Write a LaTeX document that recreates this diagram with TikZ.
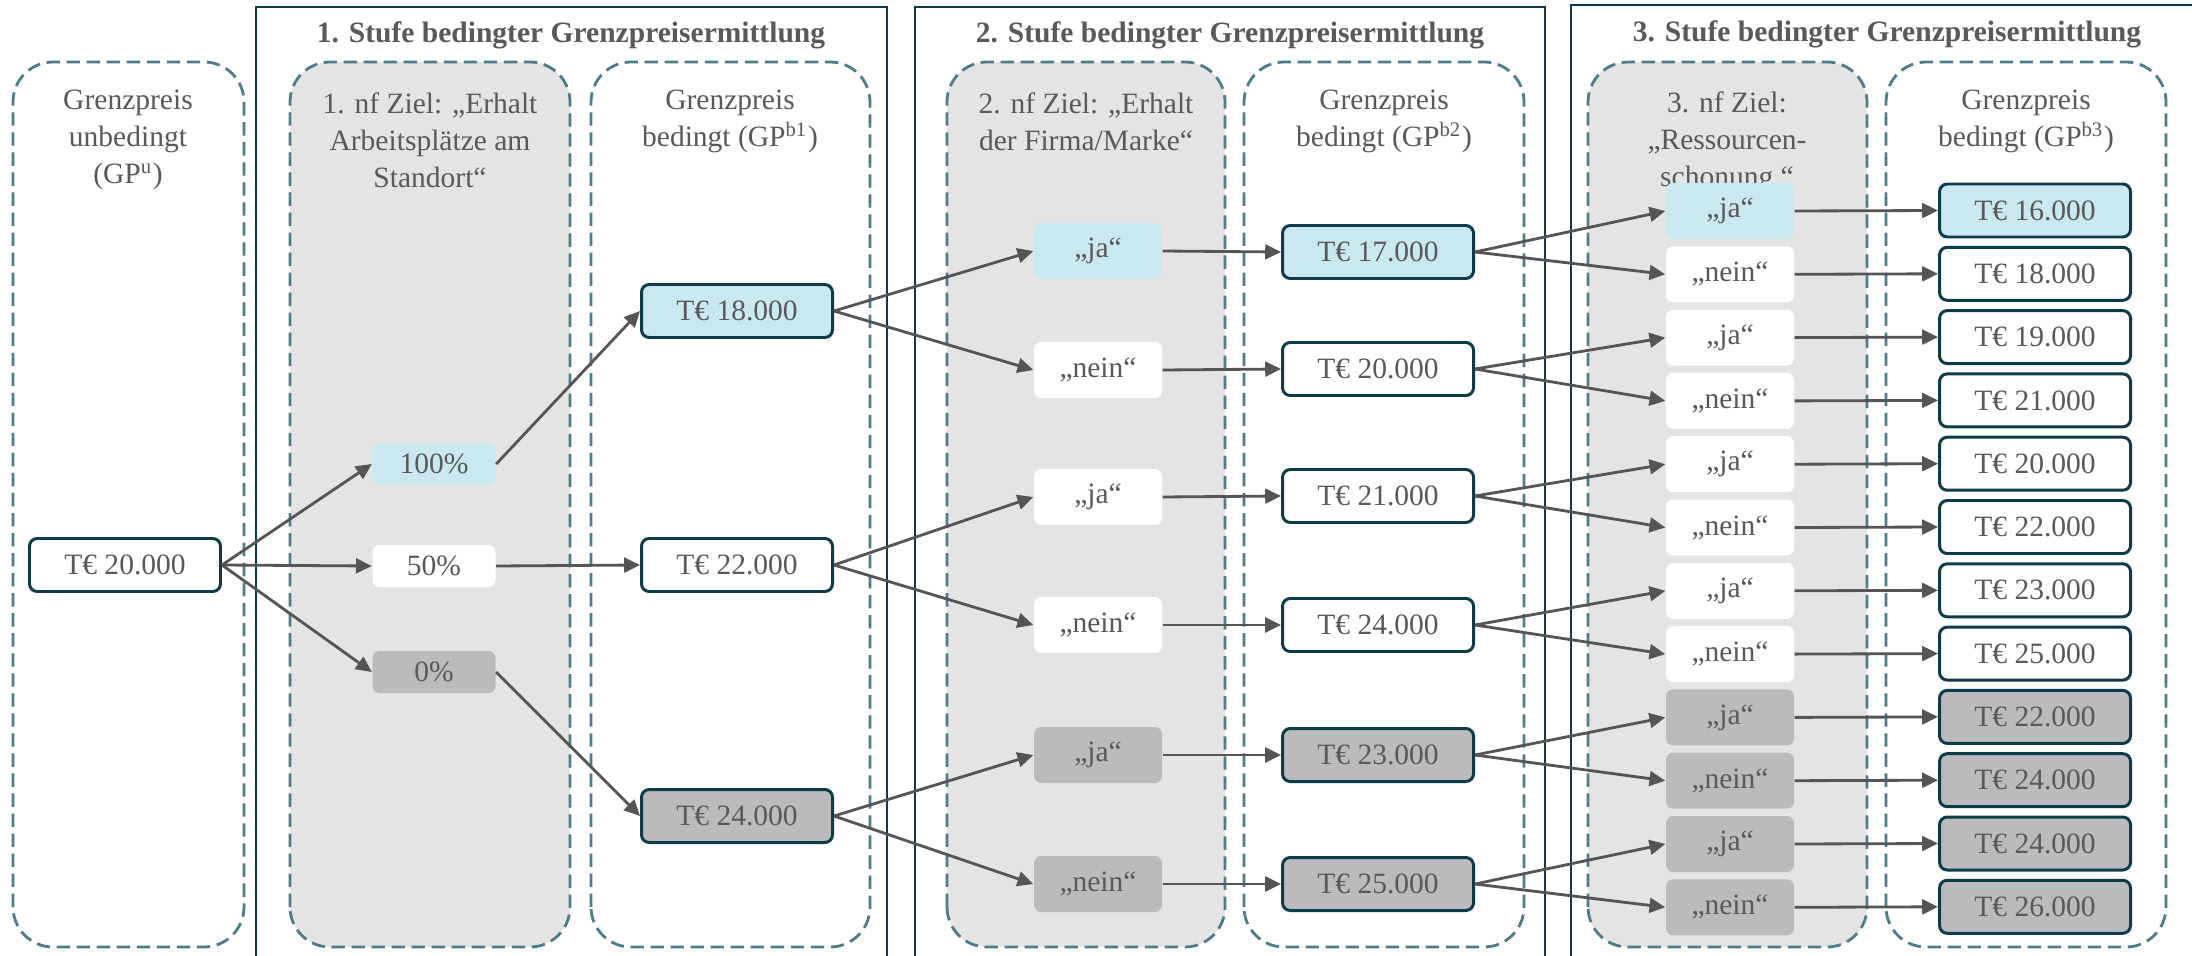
\documentclass[tikz,border=0pt]{standalone}
\usepackage{fontspec}
\setmainfont{Liberation Serif}
\usepackage{tikz}
\usepackage{xcolor}
\usetikzlibrary{arrows.meta}
\definecolor{textgray}{RGB}{89,89,89}
\definecolor{arrowgray}{RGB}{85,85,85}
\definecolor{frameteal}{RGB}{13,59,74}
\definecolor{dashteal}{RGB}{77,124,138}
\definecolor{colgray}{RGB}{228,228,228}
\definecolor{bluefill}{RGB}{201,232,239}
\definecolor{grayfill}{RGB}{187,187,189}

\begin{document}
\begin{tikzpicture}[
    >={Triangle[length=4.5pt, width=4.2pt]},
    colbox/.style={draw=dashteal, line width=0.8pt, dash pattern=on 3.8pt off 1.9pt, rounded corners=0.4cm},
    stagebox/.style={draw=frameteal, line width=0.7pt},
    head/.style={text=textgray, align=center, font=\fontsize{8.4}{10.5}\selectfont},
    title/.style={text=textgray, font=\fontsize{8.4}{10.5}\selectfont\bfseries},
    pricebox/.style={draw=frameteal, line width=0.85pt, rounded corners=2.2pt, minimum width=1.91cm, minimum height=0.53cm, inner sep=0pt, text=textgray, font=\fontsize{8.4}{10.5}\selectfont},
    pctbox/.style={rounded corners=2pt, minimum width=1.23cm, minimum height=0.42cm, inner sep=0pt, text=textgray, font=\fontsize{8.4}{10.5}\selectfont},
    optbox/.style={rounded corners=2pt, minimum width=1.28cm, minimum height=0.56cm, inner sep=0pt, text=textgray, font=\fontsize{8.4}{10.5}\selectfont},
    flow/.style={->, draw=arrowgray, line width=0.8pt}
]

% Canvas
\useasboundingbox (0,0) rectangle (21.92,9.55);
\clip (0,0) rectangle (21.92,9.55);
\fill[white] (0,0) rectangle (21.92,9.55);

% Stage frames (open at the bottom and right edge)
\draw[stagebox] (2.56,-0.5) rectangle (8.87,9.48);
\draw[stagebox] (9.15,-0.5) rectangle (15.45,9.48);
\draw[stagebox] (15.71,-0.5) rectangle (22.5,9.50);
\node[title] (TITLE1) at (5.71, 9.20) {1. Stufe bedingter Grenzpreisermittlung};
\node[title] (TITLE2) at (12.30, 9.20) {2. Stufe bedingter Grenzpreisermittlung};
\node[title] (TITLE3) at (18.87, 9.21) {3. Stufe bedingter Grenzpreisermittlung};

% Columns
\draw[colbox] (0.13,0.08) rectangle (2.44,8.93);
\draw[colbox, fill=colgray] (2.90,0.08) rectangle (5.70,8.93);
\draw[colbox] (5.91,0.08) rectangle (8.70,8.93);
\draw[colbox, fill=colgray] (9.47,0.08) rectangle (12.25,8.93);
\draw[colbox] (12.44,0.08) rectangle (15.24,8.93);
\draw[colbox, fill=colgray] (15.88,0.08) rectangle (18.67,8.93);
\draw[colbox] (18.86,0.08) rectangle (21.66,8.93);

% Column headers
\node[head] (HEAD_U) at (1.28, 8.15) {Grenzpreis\\unbedingt\\(GP\textsuperscript{u})};
\node[head] (HEAD_Z1) at (4.30, 8.15) {1. nf Ziel: „Erhalt\\Arbeitsplätze am\\Standort“};
\node[head] (HEAD_B1) at (7.30, 8.34) {Grenzpreis\\bedingt (GP\textsuperscript{b1})};
\node[head] (HEAD_Z2) at (10.86, 8.33) {2. nf Ziel: „Erhalt\\der Firma/Marke“};
\node[head] (HEAD_B2) at (13.84, 8.34) {Grenzpreis\\bedingt (GP\textsuperscript{b2})};
\node[head] (HEAD_Z3) at (17.27, 8.13) {3. nf Ziel:\\„Ressourcen-\\schonung “};
\node[head] (HEAD_B3) at (20.26, 8.34) {Grenzpreis\\bedingt (GP\textsuperscript{b3})};

% Unconditional price
\node[pricebox, fill=white] (GPU) at (1.25, 3.90) {T€ 20.000};

% Stage 1
\node[pctbox, fill=bluefill] (P100) at (4.34, 4.91) {100\%};
\node[pctbox, fill=white] (P50) at (4.34, 3.89) {50\%};
\node[pctbox, fill=grayfill] (P0) at (4.34, 2.83) {0\%};

\node[pricebox, fill=bluefill] (GP1A) at (7.37, 6.44) {T€ 18.000};
\node[pricebox, fill=white] (GP1B) at (7.37, 3.90) {T€ 22.000};
\node[pricebox, fill=grayfill] (GP1C) at (7.37, 1.39) {T€ 24.000};

\draw[flow] (GPU.east) -- (P100.west);
\draw[flow] (GPU.east) -- (P50.west);
\draw[flow] (GPU.east) -- (P0.west);
\draw[flow] (P100.east) -- (GP1A.west);
\draw[flow] (P50.east) -- (GP1B.west);
\draw[flow] (P0.east) -- (GP1C.west);

% Stage 2
\node[optbox, fill=bluefill] (Z2A) at (10.98, 7.04) {„ja“};
\node[optbox, fill=white] (Z2B) at (10.98, 5.85) {„nein“};
\node[optbox, fill=white] (Z2C) at (10.98, 4.58) {„ja“};
\node[optbox, fill=white] (Z2D) at (10.98, 3.30) {„nein“};
\node[optbox, fill=grayfill] (Z2E) at (10.98, 2.00) {„ja“};
\node[optbox, fill=grayfill] (Z2F) at (10.98, 0.71) {„nein“};

\node[pricebox, fill=bluefill] (GP2A) at (13.78, 7.03) {T€ 17.000};
\node[pricebox, fill=white] (GP2B) at (13.78, 5.86) {T€ 20.000};
\node[pricebox, fill=white] (GP2C) at (13.78, 4.59) {T€ 21.000};
\node[pricebox, fill=white] (GP2D) at (13.78, 3.30) {T€ 24.000};
\node[pricebox, fill=grayfill] (GP2E) at (13.78, 2.00) {T€ 23.000};
\node[pricebox, fill=grayfill] (GP2F) at (13.78, 0.71) {T€ 25.000};

\draw[flow] (GP1A.east) -- (Z2A.west);
\draw[flow] (GP1A.east) -- (Z2B.west);
\draw[flow] (GP1B.east) -- (Z2C.west);
\draw[flow] (GP1B.east) -- (Z2D.west);
\draw[flow] (GP1C.east) -- (Z2E.west);
\draw[flow] (GP1C.east) -- (Z2F.west);

\draw[flow] (Z2A.east) -- (GP2A.west);
\draw[flow] (Z2B.east) -- (GP2B.west);
\draw[flow] (Z2C.east) -- (GP2C.west);
\draw[flow] (Z2D.east) -- (GP2D.west);
\draw[flow] (Z2E.east) -- (GP2E.west);
\draw[flow] (Z2F.east) -- (GP2F.west);

% Stage 3
\node[optbox, fill=bluefill] (Z3A) at (17.30, 7.440) {„ja“};
\node[optbox, fill=white] (Z3B) at (17.30, 6.807) {„nein“};
\node[optbox, fill=white] (Z3C) at (17.30, 6.174) {„ja“};
\node[optbox, fill=white] (Z3D) at (17.30, 5.541) {„nein“};
\node[optbox, fill=white] (Z3E) at (17.30, 4.908) {„ja“};
\node[optbox, fill=white] (Z3F) at (17.30, 4.275) {„nein“};
\node[optbox, fill=white] (Z3G) at (17.30, 3.642) {„ja“};
\node[optbox, fill=white] (Z3H) at (17.30, 3.009) {„nein“};
\node[optbox, fill=grayfill] (Z3I) at (17.30, 2.376) {„ja“};
\node[optbox, fill=grayfill] (Z3J) at (17.30, 1.743) {„nein“};
\node[optbox, fill=grayfill] (Z3K) at (17.30, 1.110) {„ja“};
\node[optbox, fill=grayfill] (Z3L) at (17.30, 0.477) {„nein“};

\node[pricebox, fill=bluefill] (GP3A) at (20.35, 7.445) {T€ 16.000};
\node[pricebox, fill=white] (GP3B) at (20.35, 6.812) {T€ 18.000};
\node[pricebox, fill=white] (GP3C) at (20.35, 6.179) {T€ 19.000};
\node[pricebox, fill=white] (GP3D) at (20.35, 5.546) {T€ 21.000};
\node[pricebox, fill=white] (GP3E) at (20.35, 4.913) {T€ 20.000};
\node[pricebox, fill=white] (GP3F) at (20.35, 4.280) {T€ 22.000};
\node[pricebox, fill=white] (GP3G) at (20.35, 3.647) {T€ 23.000};
\node[pricebox, fill=white] (GP3H) at (20.35, 3.014) {T€ 25.000};
\node[pricebox, fill=grayfill] (GP3I) at (20.35, 2.381) {T€ 22.000};
\node[pricebox, fill=grayfill] (GP3J) at (20.35, 1.748) {T€ 24.000};
\node[pricebox, fill=grayfill] (GP3K) at (20.35, 1.115) {T€ 24.000};
\node[pricebox, fill=grayfill] (GP3L) at (20.35, 0.482) {T€ 26.000};

\draw[flow] (GP2A.east) -- (Z3A.west);
\draw[flow] (GP2A.east) -- (Z3B.west);
\draw[flow] (GP2B.east) -- (Z3C.west);
\draw[flow] (GP2B.east) -- (Z3D.west);
\draw[flow] (GP2C.east) -- (Z3E.west);
\draw[flow] (GP2C.east) -- (Z3F.west);
\draw[flow] (GP2D.east) -- (Z3G.west);
\draw[flow] (GP2D.east) -- (Z3H.west);
\draw[flow] (GP2E.east) -- (Z3I.west);
\draw[flow] (GP2E.east) -- (Z3J.west);
\draw[flow] (GP2F.east) -- (Z3K.west);
\draw[flow] (GP2F.east) -- (Z3L.west);

\draw[flow] (Z3A.east) -- (GP3A.west);
\draw[flow] (Z3B.east) -- (GP3B.west);
\draw[flow] (Z3C.east) -- (GP3C.west);
\draw[flow] (Z3D.east) -- (GP3D.west);
\draw[flow] (Z3E.east) -- (GP3E.west);
\draw[flow] (Z3F.east) -- (GP3F.west);
\draw[flow] (Z3G.east) -- (GP3G.west);
\draw[flow] (Z3H.east) -- (GP3H.west);
\draw[flow] (Z3I.east) -- (GP3I.west);
\draw[flow] (Z3J.east) -- (GP3J.west);
\draw[flow] (Z3K.east) -- (GP3K.west);
\draw[flow] (Z3L.east) -- (GP3L.west);

\end{tikzpicture}
\end{document}
